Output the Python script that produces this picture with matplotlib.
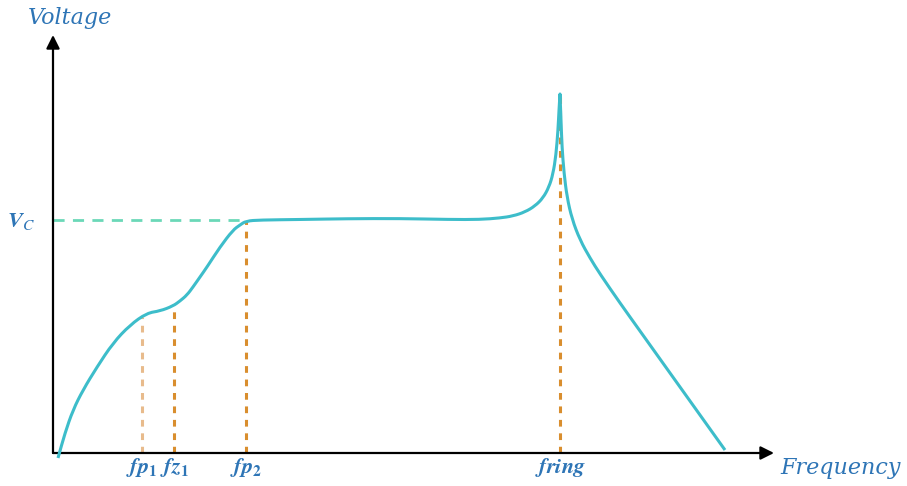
#! /usr/bin/env python3
import matplotlib.pyplot as plt
import numpy as np
from matplotlib.path import Path
from matplotlib.patches import PathPatch

plt.rcParams['mathtext.fontset'] = 'stix'

# response curve (frequency / voltage in sketch units)
freq = [5, 12, 20, 30, 44, 60, 77, 94, 107, 120, 127, 134, 140, 147, 154,
        167, 180, 187, 193, 207, 247, 294, 347, 397, 427, 447, 460, 472,
        482, 490, 496, 500, 503, 505, 506, 507, 507, 508, 509, 511, 514, 519,
        527, 537, 547, 567, 587, 627, 672]
volt = [-5, 20, 43, 63, 86, 110, 128, 140, 142, 147, 152, 158, 166, 176,
        186, 206, 223, 228, 232, 233, 233.5, 234.3, 234.5, 233.5, 233.5,
        235, 237, 241, 247, 255, 266, 279, 298, 323, 343, 359, 359, 333, 306,
        280, 256, 234, 213, 195, 179, 150, 122, 66, 3]

marker_names = [r'$\mathbfit{fp}_{\mathbf{1}}$', r'$\mathbfit{fz}_{\mathbf{1}}$',
                r'$\mathbfit{fp}_{\mathbf{2}}$', r'$\mathbfit{fring}$']
marker_freq = [89, 121, 193, 507]
marker_color = ['#e8bb8c', '#d98e2e', '#d98e2e', '#d98e2e']

vc = 233
blue = '#2e75b6'


def smooth_path(xs, ys):
    # quadratic b-spline through midpoints, read points act as control points
    pts = np.column_stack([xs, ys])
    mids = (pts[:-1] + pts[1:]) / 2
    verts = [pts[0], mids[0]]
    codes = [Path.MOVETO, Path.LINETO]
    for i in range(1, len(pts) - 1):
        verts += [pts[i], mids[i]]
        codes += [Path.CURVE3, Path.CURVE3]
    verts.append(pts[-1])
    codes.append(Path.LINETO)
    return Path(verts, codes)


fig = plt.figure(figsize=(9.07, 4.86), dpi=100)
ax = fig.add_axes([0, 0, 1, 1])
ax.set_xlim(-53, 854)
ax.set_ylim(-33, 453)
ax.axis('off')

# axes with arrows
ax.annotate('', xy=(0, 418), xytext=(0, 0),
            arrowprops=dict(arrowstyle='-|>', lw=1.6, color='k', mutation_scale=20, shrinkA=0, shrinkB=0))
ax.annotate('', xy=(721, 0), xytext=(0, 0),
            arrowprops=dict(arrowstyle='-|>', lw=1.6, color='k', mutation_scale=20, shrinkA=0, shrinkB=0))

# Vc level
ax.plot([0, 193], [vc, vc], color='#6bd8b8', lw=2, dashes=(4, 3))

# marker frequencies
for f, c in zip(marker_freq, marker_color):
    top = np.interp(f, freq, volt)
    ax.plot([f, f], [0, top], color=c, lw=2.2, dashes=(2.2, 2.2), zorder=2)

ax.add_patch(PathPatch(smooth_path(freq, volt), facecolor='none', edgecolor='#3dbdca',
                       lw=2.2, joinstyle='round', zorder=3))

for name, f in zip(marker_names, marker_freq):
    ax.text(f, -14, name, color=blue, fontsize=16, ha='center', va='center')

ax.text(-32, vc - 2, r'$\mathbfit{V}_{\mathit{C}}$', color=blue, fontsize=16, ha='center', va='center')
ax.text(-25, 435, 'Voltage', color=blue, fontsize=16, fontstyle='italic',
        family='DejaVu Serif', ha='left', va='center')
ax.text(727, -15, 'Frequency', color=blue, fontsize=16, fontstyle='italic',
        family='DejaVu Serif', ha='left', va='center')

plt.savefig('out.png', dpi=100)
